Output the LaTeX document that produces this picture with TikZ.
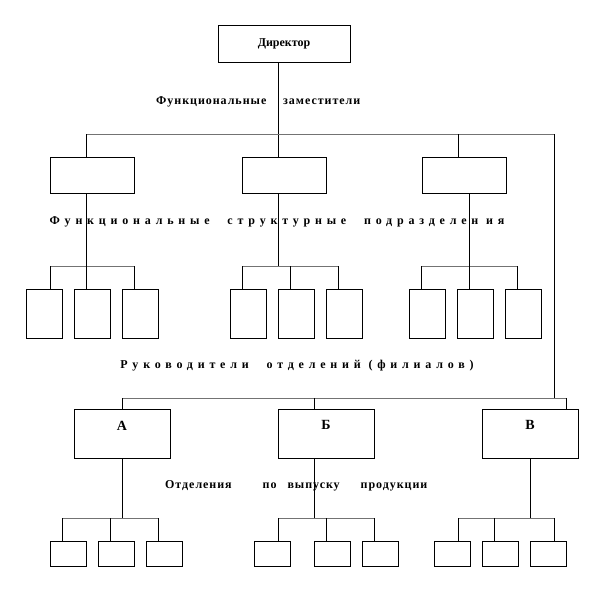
\documentclass[tikz,border=0pt]{standalone}
\usepackage{fontspec}
\setmainfont{Liberation Serif}

\begin{document}
\begin{tikzpicture}[x=1pt, y=-1pt,
  unit/.style={draw, line width=0.8pt, inner sep=0pt},
  headbox/.style={unit, minimum width=132pt, minimum height=37pt},
  deputy/.style={unit, minimum width=84pt, minimum height=36pt},
  dept/.style={unit, minimum width=36pt, minimum height=49pt},
  division/.style={unit, minimum width=96pt, minimum height=49pt},
  shop/.style={unit, minimum width=36pt, minimum height=25pt},
  bus/.style={draw=black!55, line width=0.8pt},
  link/.style={line width=0.8pt},
  caption/.style={font=\bfseries\fontsize{12}{14}\selectfont\addfontfeature{LetterSpace=8}, inner sep=0pt},
  spaced/.style={font=\bfseries\fontsize{12}{14}\selectfont\addfontfeature{LetterSpace=40}, inner sep=0pt},
  letter/.style={font=\bfseries\fontsize{14}{16}\selectfont, inner sep=0pt}]
\useasboundingbox (0,0) rectangle (615,603);

% director and deputies
\node[headbox, font=\bfseries\fontsize{12}{14}\selectfont] (dir) at (284,43.5) {Директор};
\node[deputy] (f1) at (92,175) {};
\node[deputy] (f2) at (284,175) {};
\node[deputy] (f3) at (464,175) {};

% functional departments
\node[dept] (f1a) at (44,313.5) {};
\node[dept] (f1b) at (92,313.5) {};
\node[dept] (f1c) at (140,313.5) {};
\node[dept] (f2a) at (248,313.5) {};
\node[dept] (f2b) at (296,313.5) {};
\node[dept] (f2c) at (344,313.5) {};
\node[dept] (f3a) at (427,313.5) {};
\node[dept] (f3b) at (475,313.5) {};
\node[dept] (f3c) at (523,313.5) {};

% divisions A, B, V
\node[division, label={[letter, anchor=north, yshift=-12pt]north:А}] (divA) at (122,433.5) {};
\node[division, label={[letter, anchor=north, yshift=-12pt]north:Б}] (divB) at (326,433.5) {};
\node[division, label={[letter, anchor=north, yshift=-12pt]north:В}] (divV) at (530,433.5) {};

% shops of the divisions
\node[shop] (a1) at (68,553.5) {};
\node[shop] (a2) at (116,553.5) {};
\node[shop] (a3) at (164,553.5) {};
\node[shop] (b1) at (272,553.5) {};
\node[shop] (b2) at (332,553.5) {};
\node[shop] (b3) at (380,553.5) {};
\node[shop] (v1) at (452,553.5) {};
\node[shop] (v2) at (500,553.5) {};
\node[shop] (v3) at (548,553.5) {};

% captions
\node[caption, anchor=west] (capF) at (156,102) {Функциональные};
\node[caption, anchor=west] (capZ) at (283,102) {заместители};
\node[spaced] (capDept) at (277,222) {Функциональные\hspace{10pt} структурные\hspace{10pt} подразделен ия};
\node[spaced] (capHead) at (297,366) {Руководители\hspace{10pt} отделений (филиалов)};
\node[caption, anchor=west] (capDiv) at (165,486) {Отделения\hspace{27pt} по\hspace{7pt} выпуску\hspace{17pt} продукции};

% top level lines
\draw[link] ([xshift=-6pt]dir.south) -- ([xshift=-6pt]f2.north);
\coordinate (tbL) at (86,134);
\coordinate (tbR) at (554,134);
\draw[bus] (tbL) -- (tbR);
\draw[link] (tbL) -- (tbL |- f1.north);
\draw[link] ([xshift=-6pt]f3.north) -- ([xshift=-6pt]f3.north |- tbL);

% group 1
\coordinate (g1L) at (50,266);
\coordinate (g1R) at (134,266);
\draw[bus] (g1L) -- (g1R);
\draw[link] (g1L) -- (g1L |- f1a.north);
\draw[link] (g1R) -- (g1R |- f1c.north);
\draw[link] ([xshift=-6pt]f1.south) -- ([xshift=-6pt]f1.south |- f1b.north);

% group 2
\coordinate (g2L) at (242,266);
\coordinate (g2R) at (338,266);
\draw[bus] (g2L) -- (g2R);
\draw[link] (g2L) -- (g2L |- f2a.north);
\draw[link] (g2R) -- (g2R |- f2c.north);
\draw[link] ([xshift=-6pt]f2b.north) -- ([xshift=-6pt]f2b.north |- g2L);
\draw[link] ([xshift=-6pt]f2.south) -- ([xshift=-6pt]f2.south |- g2L);

% group 3
\coordinate (g3L) at (421,266);
\coordinate (g3R) at (517,266);
\draw[bus] (g3L) -- (g3R);
\draw[link] (g3L) -- (g3L |- f3a.north);
\draw[link] (g3R) -- (g3R |- f3c.north);
\draw[link] ([xshift=5pt]f3.south) -- ([xshift=5pt]f3.south |- f3b.north);

% line down to the divisions
\coordinate (bbL) at (122,398);
\coordinate (bbR) at (566,398);
\draw[link] (tbR) -- (tbR |- bbL);
\draw[bus] (bbL) -- (bbR);
\draw[link] (bbL) -- (divA.north);
\draw[link] (bbR) -- (bbR |- divV.north);
\draw[link] ([xshift=-12pt]divB.north) -- ([xshift=-12pt]divB.north |- bbL);

% division A
\coordinate (hAL) at (62,518);
\coordinate (hAR) at (158,518);
\draw[bus] (hAL) -- (hAR);
\draw[link] (divA.south) -- (divA.south |- hAL);
\draw[link] (hAL) -- (hAL |- a1.north);
\draw[link] (hAR) -- (hAR |- a3.north);
\draw[link] ([xshift=-6pt]a2.north) -- ([xshift=-6pt]a2.north |- hAL);

% division B
\coordinate (hBL) at (278,518);
\coordinate (hBR) at (374,518);
\draw[bus] (hBL) -- (hBR);
\draw[link] ([xshift=-12pt]divB.south) -- ([xshift=-12pt]divB.south |- hBL);
\draw[link] (hBL) -- (hBL |- b1.north);
\draw[link] (hBR) -- (hBR |- b3.north);
\draw[link] ([xshift=-6pt]b2.north) -- ([xshift=-6pt]b2.north |- hBL);

% division V
\coordinate (hVL) at (458,518);
\coordinate (hVR) at (554,518);
\draw[bus] (hVL) -- (hVR);
\draw[link] (divV.south) -- (divV.south |- hVL);
\draw[link] (hVL) -- (hVL |- v1.north);
\draw[link] (hVR) -- (hVR |- v3.north);
\draw[link] ([xshift=-6pt]v2.north) -- ([xshift=-6pt]v2.north |- hVL);

\end{tikzpicture}
\end{document}
